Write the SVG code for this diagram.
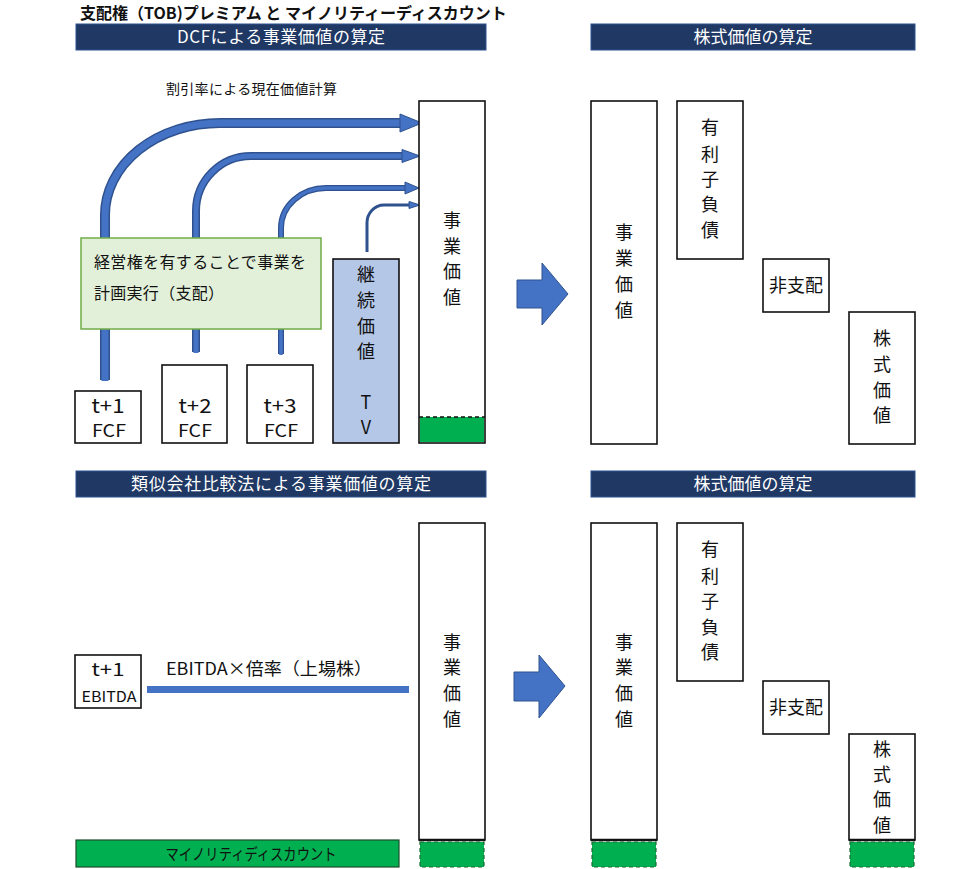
<svg xmlns="http://www.w3.org/2000/svg" width="980" height="869" viewBox="0 0 980 869">
<style>
text{font-family:"Noto Sans CJK JP","Noto Sans",sans-serif;fill:#111}
.hdr{fill:#1f3864;stroke:#2f528f;stroke-width:1}
.ht{fill:#fff;font-size:17px;text-anchor:middle}
.box{fill:#fff;stroke:#111;stroke-width:1.6}
.v{font-size:18px;text-anchor:middle}
.grn{fill:#00b050;stroke:#1d6b34;stroke-width:1.2;stroke-dasharray:4 3}
.o{fill:none;stroke:#2f528f;stroke-linecap:butt}
.i{fill:none;stroke:#4472c4;stroke-linecap:butt}
.ah{fill:#4472c4;stroke:#2f528f;stroke-width:1}
.c{text-anchor:middle}
</style>
<rect width="980" height="869" fill="#fff"/>
<text x="80" y="19" font-size="16" font-weight="bold">支配権（TOB)プレミアム と マイノリティーディスカウント</text>

<g id="hdr-dcf"><rect class="hdr" x="76" y="24" width="410" height="26"/><text class="ht" x="281" y="43" textLength="208">DCFによる事業価値の算定</text></g>
<g id="hdr-eq1"><rect class="hdr" x="591" y="24" width="324" height="26"/><text class="ht" x="753" y="43">株式価値の算定</text></g>
<g id="hdr-comp"><rect class="hdr" x="76" y="471" width="410" height="26"/><text class="ht" x="281" y="490" textLength="300">類似会社比較法による事業価値の算定</text></g>
<g id="hdr-eq2"><rect class="hdr" x="591" y="471" width="324" height="26"/><text class="ht" x="753" y="490">株式価値の算定</text></g>

<text x="166" y="94" font-size="14" textLength="171">割引率による現在価値計算</text>

<g id="connectors">
<path class="o" stroke-width="10" d="M105,380 V215 A115,92 0 0 1 220,123 H401"/>
<path class="i" stroke-width="7" d="M105,381 V215 A115,92 0 0 1 220,123 H402"/>
<polygon class="ah" points="400,114 422,123 400,132"/>
<path class="o" stroke-width="8" d="M196,352 V211 A55,55 0 0 1 251,156 H403"/>
<path class="i" stroke-width="5" d="M196,353 V211 A55,55 0 0 1 251,156 H404"/>
<polygon class="ah" points="402,149.5 420,156 402,162.5"/>
<path class="o" stroke-width="6" d="M281,354 V228 A45,40 0 0 1 326,188 H406"/>
<path class="i" stroke-width="3.5" d="M281,355 V228 A45,40 0 0 1 326,188 H407"/>
<polygon class="ah" points="405,182 419,188 405,194"/>
<path class="o" stroke-width="3" d="M367,252 V223 A17,18 0 0 1 384,205 H410"/>
<polygon class="ah" points="409,201.5 420,205 409,208.5"/>
<path class="i" stroke-width="7" d="M147,689.5 H409"/>
<polygon class="ah" points="517,280 542,280 542,263 568,294 542,325 542,308 517,308"/>
<polygon class="ah" points="514,672 539,672 539,655 565,686 539,718 539,701 514,701"/>
</g>

<g id="control-note">
<rect x="81" y="238" width="240" height="91" fill="#e2f0d9" stroke="#70ad47" stroke-width="1.5"/>
<text x="94" y="268" font-size="16" textLength="212">経営権を有することで事業を</text>
<text x="94" y="299" font-size="16" textLength="130">計画実行（支配）</text>
</g>

<g id="fcf1"><rect class="box" x="75" y="391" width="66" height="52"/><text class="c" x="108" y="413" font-size="19" textLength="33" lengthAdjust="spacingAndGlyphs">t+1</text><text class="c" x="109" y="437" font-size="17" textLength="34" lengthAdjust="spacingAndGlyphs">FCF</text></g>
<g id="fcf2"><rect class="box" x="162" y="365" width="65" height="78"/><text class="c" x="195" y="413" font-size="19" textLength="33" lengthAdjust="spacingAndGlyphs">t+2</text><text class="c" x="195" y="437" font-size="17" textLength="34" lengthAdjust="spacingAndGlyphs">FCF</text></g>
<g id="fcf3"><rect class="box" x="247" y="365" width="66" height="78"/><text class="c" x="280" y="413" font-size="19" textLength="33" lengthAdjust="spacingAndGlyphs">t+3</text><text class="c" x="281" y="437" font-size="17" textLength="34" lengthAdjust="spacingAndGlyphs">FCF</text></g>

<g id="tv">
<rect x="333" y="259" width="66" height="184" fill="#b4c7e7" stroke="#111" stroke-width="1.6"/>
<text class="v" x="366"><tspan x="366" y="281">継</tspan><tspan x="366" y="307">続</tspan><tspan x="366" y="333">価</tspan><tspan x="366" y="358">値</tspan><tspan x="366" y="409">T</tspan><tspan x="366" y="434">V</tspan></text>
</g>

<g id="ev-dcf">
<rect class="box" x="419" y="101" width="66" height="342"/>
<rect x="420" y="417" width="64" height="25" fill="#00b050"/>
<line x1="419" y1="417" x2="485" y2="417" stroke="#111" stroke-width="1.5" stroke-dasharray="4 3"/>
<text class="v"><tspan x="452" y="227">事</tspan><tspan x="452" y="253">業</tspan><tspan x="452" y="278">価</tspan><tspan x="452" y="304">値</tspan></text>
</g>

<g id="ev1"><rect class="box" x="591" y="101" width="66" height="343"/><text class="v"><tspan x="624" y="239">事</tspan><tspan x="624" y="265">業</tspan><tspan x="624" y="291">価</tspan><tspan x="624" y="317">値</tspan></text></g>
<g id="debt1"><rect class="box" x="677" y="101" width="66" height="158"/><text class="v"><tspan x="710" y="134">有</tspan><tspan x="710" y="161">利</tspan><tspan x="710" y="186">子</tspan><tspan x="710" y="211">負</tspan><tspan x="710" y="237">債</tspan></text></g>
<g id="nc1"><rect class="box" x="763" y="259" width="66" height="53"/><text class="v" x="796" y="292">非支配</text></g>
<g id="eq1"><rect class="box" x="849" y="312" width="66" height="132"/><text class="v"><tspan x="882" y="345">株</tspan><tspan x="882" y="371">式</tspan><tspan x="882" y="397">価</tspan><tspan x="882" y="422">値</tspan></text></g>

<g id="ebitda"><rect class="box" x="75" y="655" width="66" height="53"/><text class="c" x="108" y="676" font-size="18" textLength="33" lengthAdjust="spacingAndGlyphs">t+1</text><text class="c" x="109" y="702" font-size="15" textLength="55" lengthAdjust="spacingAndGlyphs">EBITDA</text></g>
<text x="166" y="675" font-size="17" textLength="206" lengthAdjust="spacingAndGlyphs">EBITDA×倍率（上場株）</text>

<g id="minority"><rect x="76" y="840" width="323" height="27" fill="#00b050" stroke="#1d4d2b" stroke-width="1.2"/><text class="c" x="251" y="859.5" font-size="16" fill="#1a1a1a" textLength="171" lengthAdjust="spacingAndGlyphs">マイノリティディスカウント</text></g>

<g id="ev-comp">
<rect class="box" x="419" y="523" width="66" height="317"/>
<line x1="419" y1="840" x2="485" y2="840" stroke="#111" stroke-width="2.5"/>
<rect class="grn" x="420" y="842" width="64" height="25"/>
<text class="v"><tspan x="452" y="649">事</tspan><tspan x="452" y="674">業</tspan><tspan x="452" y="700">価</tspan><tspan x="452" y="726">値</tspan></text>
</g>

<g id="ev2">
<rect class="box" x="591" y="523" width="66" height="317"/>
<line x1="591" y1="840" x2="657" y2="840" stroke="#111" stroke-width="2.5"/>
<rect class="grn" x="592" y="842" width="64" height="25"/>
<text class="v"><tspan x="624" y="649">事</tspan><tspan x="624" y="674">業</tspan><tspan x="624" y="700">価</tspan><tspan x="624" y="726">値</tspan></text>
</g>
<g id="debt2"><rect class="box" x="677" y="523" width="66" height="158"/><text class="v"><tspan x="710" y="556">有</tspan><tspan x="710" y="583">利</tspan><tspan x="710" y="608">子</tspan><tspan x="710" y="634">負</tspan><tspan x="710" y="659">債</tspan></text></g>
<g id="nc2"><rect class="box" x="763" y="681" width="66" height="53"/><text class="v" x="796" y="714">非支配</text></g>
<g id="eq2">
<rect class="box" x="849" y="734" width="66" height="106"/>
<line x1="849" y1="840" x2="915" y2="840" stroke="#111" stroke-width="2.5"/>
<rect class="grn" x="850" y="842" width="64" height="25"/>
<text class="v"><tspan x="882" y="756">株</tspan><tspan x="882" y="781">式</tspan><tspan x="882" y="806">価</tspan><tspan x="882" y="832">値</tspan></text>
</g>
</svg>
